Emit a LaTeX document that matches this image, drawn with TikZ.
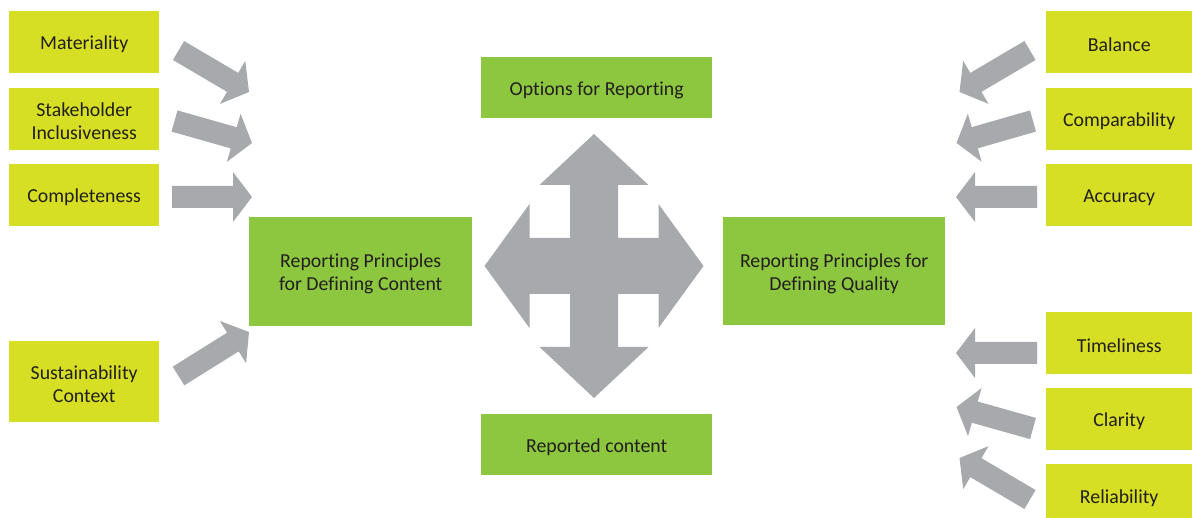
\documentclass[tikz,border=0pt]{standalone}
\usepackage{fontspec}
\setmainfont{Carlito}[Ligatures=NoCommon]
\usetikzlibrary{calc}
\definecolor{boxyellow}{RGB}{214,223,35}
\definecolor{boxgreen}{RGB}{141,198,63}
\definecolor{arrowgray}{RGB}{167,169,172}
\definecolor{inkdark}{RGB}{35,31,32}

% Block arrow from a tail coordinate #1 to a tip coordinate #2
\newcommand{\blockarrow}[2]{%
  \coordinate (#1-hb) at ($(#2)!19pt!(#1)$);
  \fill[arrowgray]
    ($(#1)!11pt!90:(#2)$) -- ($(#1-hb)!11pt!90:(#2)$) -- ($(#1-hb)!25pt!90:(#2)$)
    -- (#2)
    -- ($(#1-hb)!25pt!-90:(#2)$) -- ($(#1-hb)!11pt!-90:(#2)$) -- ($(#1)!11pt!-90:(#2)$)
    -- cycle;
}

\begin{document}
\begin{tikzpicture}[x=1pt,y=-1pt,
  box/.style={inner sep=0pt, anchor=north west},
  txt/.style={text=inkdark, align=center, inner sep=0pt, yshift=-2.5pt,
    font=\fontsize{19.8}{23}\selectfont},
  lbox/.style={box, fill=boxyellow, minimum width=150pt, minimum height=62pt},
  rbox/.style={box, fill=boxyellow, minimum width=146pt, minimum height=62pt},
  gbox/.style={box, fill=boxgreen}]
\useasboundingbox (0,0) rectangle (1192,518);

% left-hand principles
\node[lbox, label={[txt]center:Materiality}] (mat) at (9,11) {};
\node[lbox, label={[txt]center:{Stakeholder\\Inclusiveness}}] (stk) at (9,88) {};
\node[lbox, label={[txt]center:Completeness}] (cmp) at (9,164) {};
\node[lbox, minimum height=81pt, label={[txt]center:{Sustainability\\Context}}] (sus) at (9,341) {};

% right-hand principles
\node[rbox, label={[txt]center:Balance}] (bal) at (1046,11) {};
\node[rbox, label={[txt]center:Comparability}] (cpb) at (1046,88) {};
\node[rbox, label={[txt]center:Accuracy}] (acc) at (1046,164) {};
\node[rbox, label={[txt]center:Timeliness}] (tim) at (1046,312) {};
\node[rbox, label={[txt]center:Clarity}] (clr) at (1046,388) {};
\node[rbox, minimum height=64pt, label={[txt]center:Reliability}] (rel) at (1046,464) {};

% central boxes
\node[gbox, minimum width=223pt, minimum height=109pt,
  label={[txt]center:{Reporting Principles\\for Defining Content}}] (content) at (249,217) {};
\node[gbox, minimum width=222pt, minimum height=108pt,
  label={[txt]center:{Reporting Principles for\\Defining Quality}}] (quality) at (723,217) {};
\node[gbox, minimum width=231pt, minimum height=61pt,
  label={[txt]center:Options for Reporting}] (options) at (481,57) {};
\node[gbox, minimum width=231pt, minimum height=61pt,
  label={[txt]center:Reported content}] (reported) at (481,414) {};

% four-way arrow in the middle
\fill[arrowgray]
  (594,134) -- (648.5,185) -- (618,185) -- (618,238) -- (658.5,238) -- (658.5,204)
  -- (703.5,266) -- (658.5,328) -- (658.5,294) -- (618,294) -- (618,347)
  -- (648.5,347) -- (594,398) -- (539.5,347) -- (570,347) -- (570,294)
  -- (529.5,294) -- (529.5,328) -- (484.5,266) -- (529.5,204) -- (529.5,238)
  -- (570,238) -- (570,185) -- (539.5,185) -- cycle;

% arrow end points
\coordinate (mat-t) at (178.5,50.5);  \coordinate (mat-h) at (249,92);
\coordinate (stk-t) at (174.5,121);   \coordinate (stk-h) at (252,143);
\coordinate (cmp-t) at (172,197);     \coordinate (cmp-h) at (252,197);
\coordinate (sus-t) at (178.5,376);   \coordinate (sus-h) at (249,332);
\coordinate (bal-t) at (1030,50.5);   \coordinate (bal-h) at (959.5,92);
\coordinate (cpb-t) at (1033,121);    \coordinate (cpb-h) at (956.5,143);
\coordinate (acc-t) at (1037,197);    \coordinate (acc-h) at (956,197);
\coordinate (tim-t) at (1037,353);    \coordinate (tim-h) at (956,353);
\coordinate (clr-t) at (1033,428.5);  \coordinate (clr-h) at (956.5,407);
\coordinate (rel-t) at (1030,499.5);  \coordinate (rel-h) at (959.5,458);

\blockarrow{mat-t}{mat-h}
\blockarrow{stk-t}{stk-h}
\blockarrow{cmp-t}{cmp-h}
\blockarrow{sus-t}{sus-h}
\blockarrow{bal-t}{bal-h}
\blockarrow{cpb-t}{cpb-h}
\blockarrow{acc-t}{acc-h}
\blockarrow{tim-t}{tim-h}
\blockarrow{clr-t}{clr-h}
\blockarrow{rel-t}{rel-h}
\end{tikzpicture}
\end{document}
